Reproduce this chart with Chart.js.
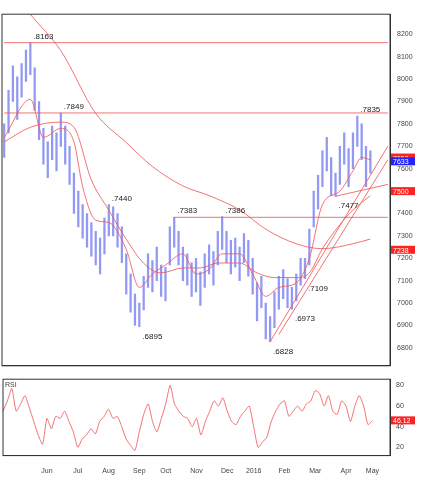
<!DOCTYPE html>
<html><head><meta charset="utf-8">
<script src="https://cdn.jsdelivr.net/npm/chart.js@4/dist/chart.umd.min.js"></script>
<style>
body{margin:0;background:#fff;font-family:"Liberation Sans",Arial,sans-serif}
#a{position:absolute;left:0;top:6px;width:420px;height:368px}
#b{position:absolute;left:0;top:372px;width:420px;height:106px}
</style></head><body>
<div id="a"><canvas id="price"></canvas></div>
<div id="b"><canvas id="rsi"></canvas></div>
<script>
const highs = [7800,7950,8060,8010,8070,8130,8163,8050,7900,7780,7720,7790,7760,7849,7790,7700,7580,7500,7440,7400,7360,7320,7290,7380,7440,7430,7400,7340,7220,7130,7040,7000,7120,7220,7190,7250,7170,7160,7340,7383,7320,7250,7220,7180,7200,7140,7220,7260,7230,7320,7386,7320,7280,7290,7250,7310,7280,7200,7090,7120,7000,6940,7050,7120,7150,7110,7070,7130,7200,7200,7330,7500,7570,7680,7740,7650,7580,7700,7760,7690,7760,7835,7800,7700,7680];
const lows = [7650,7760,7900,7820,7920,7990,8020,7860,7730,7620,7560,7640,7590,7700,7620,7530,7400,7340,7290,7250,7210,7170,7130,7220,7300,7300,7250,7180,7040,6960,6900,6895,6970,7070,7050,7100,7030,7010,7170,7250,7170,7100,7080,7030,7050,6990,7070,7130,7080,7170,7240,7180,7130,7160,7100,7180,7120,7040,6920,6980,6840,6828,6890,6973,7020,6980,6973,7010,7080,7109,7170,7340,7420,7520,7590,7480,7477,7530,7620,7520,7600,7700,7640,7520,7580];
const rsi = [55,65,77,55,62,70,58,45,32,23,48,38,50,48,55,45,35,20,28,32,38,33,45,50,57,48,50,40,28,22,17,35,52,62,45,35,48,62,80,62,55,50,48,40,48,32,45,55,65,60,68,55,45,42,50,55,60,40,20,25,30,45,55,62,65,50,55,60,55,62,65,75,72,60,70,55,52,65,60,45,60,70,60,42,46];
// moving averages, sparse: [index, value]
const maShort = [[0,7740],[6,7910],[9,7740],[13,7780],[16,7720],[18,7520],[21,7370],[24,7360],[28,7240],[31,7070],[34,7130],[37,7170],[41,7220],[44,7130],[47,7150],[50,7220],[54,7220],[57,7130],[60,7030],[63,7070],[67,7090],[70,7200],[73,7440],[77,7500],[80,7590],[82,7650],[84,7640]];
const maMid = [[0,7720],[6,7785],[13,7808],[16,7785],[20,7550],[24,7415],[28,7285],[32,7178],[36,7135],[41,7157],[45,7157],[49,7179],[54,7179],[58,7135],[62,7114],[67,7114],[70,7135],[73,7243],[77,7350],[80,7415],[84,7480]];
const maLong = [[0,8450],[6,8290],[13,8127],[21,7847],[28,7717],[34,7610],[41,7523],[47,7480],[54,7416],[60,7330],[67,7265],[73,7243],[80,7265],[84,7286]];
const trend1 = [[61,6828],[88,7700]];
const trend2 = [[63,6860],[88,7640]];
const trend3 = [[76,7477],[88,7530]];
const res1 = [[0,8163],[88,8163]];
const res2 = [[0,7849],[88,7849]];
const res3 = [[39,7383],[88,7383]];
const months = {10:'Jun',17:'Jul',24:'Aug',31:'Sep',37:'Oct',44:'Nov',51:'Dec',57:'2016',64:'Feb',71:'Mar',78:'Apr',84:'May'};
const peaks = [[6,8163,'.8163',1],[13,7849,'.7849',1],[24,7440,'.7440',1],[31,6895,'.6895',0],[39,7383,'.7383',1],[50,7386,'.7386',1],[61,6828,'.6828',0],[66,6973,'.6973',0],[69,7109,'.7109',0],[76,7477,'.7477',0],[81,7835,'.7835',1]];

const N = 89;
const labels = Array.from({length:N},(_,i)=>i);
const bars = highs.map((h,i)=>[lows[i],h]);
function sparse(pts){const a=new Array(N).fill(null);pts.forEach(p=>a[p[0]]=p[1]);return a;}
function line(pts){return {type:'line',data:sparse(pts),borderColor:'rgba(240,90,90,0.85)',borderWidth:1,pointRadius:0,spanGaps:true,cubicInterpolationMode:'monotone',order:0};}
function straight(pts){const d=line(pts);d.cubicInterpolationMode='default';d.tension=0;return d;}

const peakLabels = {id:'peaks',afterDatasetsDraw(c){const x=c.scales.x,y=c.scales.y,ctx=c.ctx;ctx.save();ctx.font='8px "Liberation Sans"';
  peaks.forEach(p=>{const px=x.getPixelForValue(p[0]),py=y.getPixelForValue(p[1]);
    ctx.fillStyle='#222';ctx.textAlign='left';ctx.fillText(p[2],px+3,p[3]?py-4:py+12);});
  [[7650,'#f22','7650'],[7633,'#22f','7633'],[7500,'#f22','7500'],[7238,'#f22','7238']].forEach(b=>{const py=y.getPixelForValue(b[0]);ctx.fillStyle=b[1];ctx.fillRect(c.chartArea.right+1,py-4,24,8);ctx.fillStyle='#fff';ctx.font='7px "Liberation Sans"';ctx.fillText(b[2],c.chartArea.right+3,py+3);});
  ctx.strokeStyle='#333';ctx.lineWidth=1;ctx.strokeRect(c.chartArea.left,c.chartArea.top,c.chartArea.right-c.chartArea.left,c.chartArea.bottom-c.chartArea.top);
  ctx.restore();}};
const frame = {id:'frame',afterDraw(c){const a=c.chartArea,ctx=c.ctx;ctx.save();ctx.strokeStyle='#333';ctx.strokeRect(a.left,a.top,a.right-a.left,a.bottom-a.top);ctx.fillStyle='#444';ctx.font='7px "Liberation Sans"';ctx.fillText('RSI',a.left+2,a.top+8);
  const py=c.scales.y.getPixelForValue(46.12);ctx.fillStyle='#f22';ctx.fillRect(a.right+1,py-4,24,8);ctx.fillStyle='#fff';ctx.fillText('46.12',a.right+3,py+3);ctx.restore();}};

new Chart(document.getElementById('price'),{
  type:'bar',
  data:{labels,datasets:[
    {data:bars,backgroundColor:'rgba(100,110,240,0.7)',barThickness:1.6,order:1},
    line(maShort),line(maMid),line(maLong),
    straight(trend1),straight(trend2),straight(trend3),straight(res1),straight(res2),straight(res3)
  ]},
  options:{animation:false,responsive:true,maintainAspectRatio:false,
    layout:{padding:{left:2}},
    plugins:{legend:{display:false},tooltip:{enabled:false}},
    scales:{
      x:{display:true,grid:{display:false,drawTicks:false},ticks:{display:false},border:{color:'#333'}},
      y:{position:'right',min:6720,max:8290,afterFit(s){s.width=30;},
        afterBuildTicks(s){s.ticks=s.ticks.filter(t=>t.value%100===0);},
        ticks:{stepSize:100,font:{size:7},color:'#444',padding:4,callback:v=>String(v)},
        grid:{display:false,drawTicks:true,tickLength:3},border:{color:'#333'}}
    }},
  plugins:[peakLabels]
});

new Chart(document.getElementById('rsi'),{
  type:'line',
  data:{labels,datasets:[{data:rsi,borderColor:'rgba(240,90,90,0.85)',borderWidth:1,pointRadius:0,tension:0.2}]},
  options:{animation:false,responsive:true,maintainAspectRatio:false,
    layout:{padding:{left:2}},
    plugins:{legend:{display:false},tooltip:{enabled:false}},
    scales:{
      x:{grid:{display:false},border:{color:'#333'},
        ticks:{autoSkip:false,maxRotation:0,font:{size:7},color:'#444',callback:(v)=>months[v]||''}},
      y:{position:'right',min:12,max:86,afterFit(s){s.width=30;},
        afterBuildTicks(s){s.ticks=[20,40,60,80].map(v=>({value:v}));},
        ticks:{font:{size:7},color:'#444'},
        grid:{display:false,tickLength:3},border:{color:'#333'}}
    }},
  plugins:[frame]
});
</script></body></html>
